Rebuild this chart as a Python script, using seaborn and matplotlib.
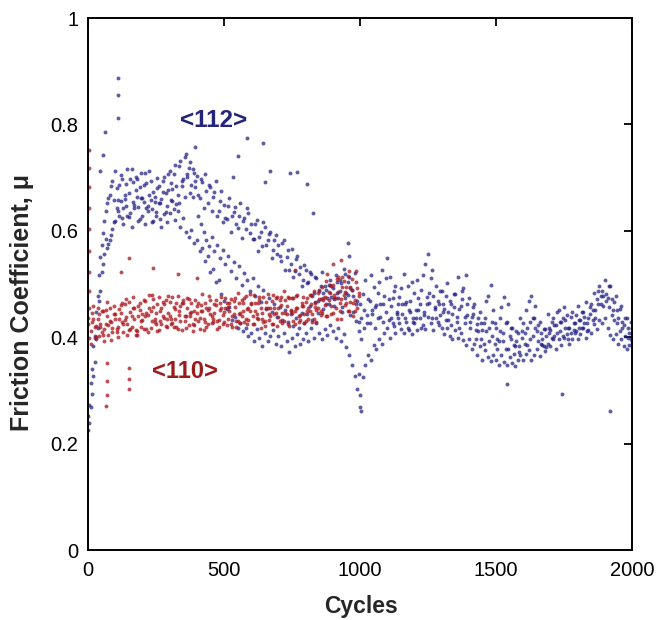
import numpy as np
import pandas as pd
import matplotlib
matplotlib.use("Agg")
import matplotlib.pyplot as plt
import seaborn as sns

# ---------------- data ----------------
blue_x_a = list(range(0, 2001, 10))
blue_x_b = list(range(5, 2000, 10)) + [2000]
blue_s1 = [0.252, 0.314, 0.383, 0.447, 0.516, 0.573, 0.618, 0.652, 0.667, 0.694,
           0.713, 0.657, 0.704, 0.642, 0.688, 0.671, 0.716, 0.648, 0.697, 0.683,
           0.662, 0.708, 0.637, 0.694, 0.673, 0.628, 0.684, 0.659, 0.702, 0.646,
           0.712, 0.679, 0.723, 0.668, 0.731, 0.697, 0.744, 0.718, 0.686, 0.709,
           0.703, 0.662, 0.691, 0.707, 0.653, 0.682, 0.664, 0.693, 0.638, 0.674,
           0.648, 0.623, 0.661, 0.627, 0.644, 0.606, 0.652, 0.618, 0.603, 0.634,
           0.612, 0.584, 0.621, 0.588, 0.572, 0.607, 0.583, 0.598, 0.563, 0.592,
           0.574, 0.543, 0.582, 0.551, 0.527, 0.566, 0.524, 0.553, 0.532, 0.508,
           0.527, 0.503, 0.518, 0.484, 0.512, 0.487, 0.523, 0.496, 0.473, 0.508,
           0.493, 0.517, 0.474, 0.502, 0.528, 0.483, 0.514, 0.488, 0.521, 0.468,
           0.463, 0.482, 0.507, 0.472, 0.516, 0.494, 0.461, 0.503, 0.527, 0.478,
           0.548, 0.513, 0.474, 0.497, 0.463, 0.492, 0.518, 0.467, 0.452, 0.503,
           0.484, 0.507, 0.463, 0.516, 0.538, 0.557, 0.512, 0.478, 0.496, 0.462,
           0.487, 0.453, 0.502, 0.468, 0.443, 0.482, 0.513, 0.458, 0.492, 0.516,
           0.473, 0.438, 0.462, 0.424, 0.447, 0.413, 0.436, 0.477, 0.498, 0.452,
           0.418, 0.393, 0.457, 0.476, 0.428, 0.403, 0.417, 0.384, 0.408, 0.437,
           0.427, 0.452, 0.468, 0.477, 0.436, 0.412, 0.428, 0.397, 0.416, 0.443,
           0.414, 0.437, 0.423, 0.452, 0.428, 0.457, 0.442, 0.418, 0.447, 0.426,
           0.458, 0.432, 0.447, 0.466, 0.437, 0.462, 0.483, 0.472, 0.497, 0.486,
           0.507, 0.473, 0.496, 0.452, 0.478, 0.437, 0.458, 0.423, 0.436, 0.408,
           0.417]
blue_s2 = [0.238, 0.293, 0.354, 0.418, 0.487, 0.537, 0.584, 0.576, 0.593, 0.617,
           0.643, 0.686, 0.624, 0.667, 0.628, 0.697, 0.654, 0.677, 0.618, 0.662,
           0.687, 0.643, 0.668, 0.616, 0.654, 0.681, 0.623, 0.672, 0.636, 0.677,
           0.658, 0.641, 0.684, 0.652, 0.693, 0.663, 0.702, 0.671, 0.716, 0.683,
           0.668, 0.697, 0.643, 0.674, 0.686, 0.638, 0.672, 0.627, 0.656, 0.617,
           0.624, 0.647, 0.598, 0.636, 0.613, 0.628, 0.587, 0.624, 0.643, 0.596,
           0.584, 0.613, 0.562, 0.597, 0.617, 0.573, 0.594, 0.548, 0.583, 0.557,
           0.553, 0.578, 0.527, 0.564, 0.538, 0.513, 0.547, 0.518, 0.497, 0.536,
           0.502, 0.523, 0.477, 0.514, 0.468, 0.497, 0.483, 0.462, 0.498, 0.476,
           0.458, 0.483, 0.507, 0.447, 0.474, 0.503, 0.442, 0.477, 0.463, 0.428,
           0.437, 0.452, 0.426, 0.468, 0.443, 0.457, 0.484, 0.438, 0.463, 0.512,
           0.472, 0.436, 0.487, 0.448, 0.476, 0.443, 0.462, 0.497, 0.468, 0.437,
           0.452, 0.473, 0.488, 0.447, 0.476, 0.464, 0.527, 0.453, 0.468, 0.486,
           0.447, 0.477, 0.432, 0.463, 0.482, 0.428, 0.453, 0.487, 0.438, 0.462,
           0.428, 0.457, 0.413, 0.436, 0.397, 0.427, 0.468, 0.418, 0.402, 0.426,
           0.397, 0.437, 0.408, 0.378, 0.463, 0.417, 0.386, 0.412, 0.372, 0.398,
           0.387, 0.418, 0.396, 0.437, 0.458, 0.423, 0.388, 0.416, 0.382, 0.407,
           0.428, 0.403, 0.447, 0.412, 0.436, 0.418, 0.397, 0.438, 0.413, 0.442,
           0.418, 0.447, 0.426, 0.412, 0.457, 0.433, 0.452, 0.487, 0.463, 0.478,
           0.468, 0.497, 0.442, 0.466, 0.427, 0.453, 0.417, 0.437, 0.398, 0.428,
           0.403]
blue_s3 = [0.226, 0.268, 0.327, 0.396, 0.468, 0.523, 0.557, 0.568, 0.583, 0.604,
           0.618, 0.637, 0.656, 0.613, 0.647, 0.626, 0.608, 0.643, 0.664, 0.622,
           0.628, 0.612, 0.647, 0.657, 0.618, 0.636, 0.653, 0.607, 0.632, 0.617,
           0.634, 0.656, 0.621, 0.638, 0.607, 0.624, 0.597, 0.588, 0.602, 0.577,
           0.583, 0.562, 0.568, 0.543, 0.552, 0.523, 0.528, 0.503, 0.507, 0.482,
           0.468, 0.453, 0.457, 0.433, 0.438, 0.417, 0.426, 0.412, 0.418, 0.402,
           0.407, 0.393, 0.416, 0.398, 0.384, 0.407, 0.392, 0.403, 0.414, 0.387,
           0.402, 0.384, 0.407, 0.392, 0.373, 0.398, 0.383, 0.406, 0.388, 0.397,
           0.408, 0.392, 0.417, 0.398, 0.426, 0.407, 0.397, 0.416, 0.404, 0.423,
           0.412, 0.398, 0.417, 0.392, 0.406, 0.382, 0.367, 0.348, 0.327, 0.302,
           0.268, 0.326, 0.348, 0.367, 0.358, 0.386, 0.377, 0.396, 0.388, 0.407,
           0.417, 0.398, 0.426, 0.408, 0.437, 0.416, 0.407, 0.428, 0.414, 0.406,
           0.426, 0.413, 0.437, 0.423, 0.416, 0.438, 0.427, 0.414, 0.436, 0.422,
           0.417, 0.406, 0.418, 0.403, 0.396, 0.413, 0.398, 0.408, 0.394, 0.386,
           0.397, 0.378, 0.387, 0.367, 0.384, 0.357, 0.376, 0.363, 0.356, 0.367,
           0.358, 0.347, 0.366, 0.354, 0.348, 0.363, 0.352, 0.346, 0.357, 0.366,
           0.357, 0.368, 0.376, 0.358, 0.366, 0.377, 0.364, 0.386, 0.374, 0.387,
           0.384, 0.396, 0.378, 0.397, 0.386, 0.398, 0.406, 0.388, 0.397, 0.408,
           0.397, 0.406, 0.417, 0.398, 0.413, 0.407, 0.424, 0.416, 0.433, 0.427,
           0.436, 0.418, 0.404, 0.397, 0.406, 0.388, 0.396, 0.384, 0.377, 0.386,
           0.383]
blue_s4 = [0.272, 0.341, 0.402, 0.478, 0.551, 0.596, 0.637, 0.661, 0.684, 0.658,
           0.681, 0.627, 0.698, 0.659, 0.716, 0.634, 0.691, 0.702, 0.645, 0.709,
           0.654, 0.689, 0.712, 0.641, 0.663, 0.699, 0.652, 0.693, 0.671, 0.706,
           0.689, 0.706, 0.651, 0.721, 0.684, 0.738, 0.707, 0.729, 0.664, 0.693,
           0.628, 0.612, 0.597, 0.583, 0.571, 0.589, 0.562, 0.574, 0.548, 0.563,
           0.537, 0.552, 0.524, 0.541, 0.512, 0.533, 0.498, 0.521, 0.507, 0.486,
           0.512, 0.478, 0.496, 0.467, 0.488, 0.453, 0.474, 0.447, 0.462, 0.438,
           0.457, 0.432, 0.451, 0.428, 0.443, 0.421, 0.437, 0.418, 0.446, 0.427,
           0.443, 0.458, 0.432, 0.467, 0.446, 0.472, 0.453, 0.488, 0.462, 0.497,
           0.472, 0.503, 0.486, 0.457, 0.518, 0.479, 0.493, 0.447, 0.431, 0.412,
           0.397, 0.418, 0.441, 0.427, 0.452, 0.418, 0.437, 0.462, 0.428, 0.447,
           0.432, 0.458, 0.421, 0.443, 0.427, 0.462, 0.436, 0.418, 0.447, 0.428,
           0.437, 0.452, 0.418, 0.442, 0.462, 0.483, 0.436, 0.457, 0.428, 0.441,
           0.462, 0.432, 0.447, 0.423, 0.457, 0.438, 0.418, 0.472, 0.427, 0.442,
           0.418, 0.443, 0.397, 0.412, 0.426, 0.388, 0.412, 0.392, 0.428, 0.387,
           0.377, 0.412, 0.393, 0.427, 0.378, 0.397, 0.368, 0.392, 0.384, 0.412,
           0.408, 0.386, 0.428, 0.402, 0.418, 0.393, 0.407, 0.383, 0.402, 0.418,
           0.398, 0.423, 0.407, 0.428, 0.403, 0.432, 0.417, 0.408, 0.426, 0.412,
           0.432, 0.418, 0.438, 0.427, 0.443, 0.452, 0.437, 0.462, 0.477, 0.458,
           0.482, 0.456, 0.472, 0.433, 0.452, 0.412, 0.428, 0.402, 0.418, 0.397,
           0.392]
blue_out_x = [62, 110, 110, 112, 55, 45, 393, 533, 551, 584, 643, 651,
              669, 743, 768, 805, 827, 956, 960, 995, 1000, 1005, 1540,
              1743, 1919]
blue_out_y = [0.786, 0.887, 0.855, 0.812, 0.742, 0.713, 0.758, 0.702, 0.741, 0.775,
              0.765, 0.692, 0.712, 0.708, 0.711, 0.688, 0.633, 0.578, 0.553, 0.331,
              0.292, 0.262, 0.312, 0.293, 0.262]

red_x_a = list(range(0, 1000, 10))
red_x_b = list(range(5, 1000, 10))
red_s1 = [0.437, 0.412, 0.458, 0.421, 0.403, 0.449, 0.415, 0.466, 0.430, 0.409,
          0.444, 0.419, 0.461, 0.425, 0.471, 0.414, 0.440, 0.455, 0.411, 0.452,
          0.433, 0.468, 0.441, 0.418, 0.457, 0.445, 0.476, 0.424, 0.462, 0.435,
          0.467, 0.426, 0.453, 0.478, 0.431, 0.464, 0.417, 0.471, 0.448, 0.422,
          0.458, 0.437, 0.482, 0.429, 0.452, 0.469, 0.434, 0.460, 0.420, 0.475,
          0.447, 0.423, 0.465, 0.439, 0.456, 0.484, 0.427, 0.450, 0.477, 0.432,
          0.463, 0.479, 0.436, 0.470, 0.445, 0.430, 0.481, 0.454, 0.425, 0.473,
          0.438, 0.461, 0.487, 0.444, 0.421, 0.474, 0.449, 0.480, 0.433, 0.459,
          0.466, 0.435, 0.462, 0.486, 0.451, 0.472, 0.495, 0.460, 0.518, 0.483,
          0.499, 0.455, 0.514, 0.471, 0.505, 0.465, 0.524, 0.489, 0.450, 0.493]
red_s2 = [0.398, 0.445, 0.419, 0.454, 0.425, 0.405, 0.451, 0.422, 0.394, 0.459,
          0.416, 0.453, 0.429, 0.463, 0.404, 0.447, 0.475, 0.413, 0.459, 0.430,
          0.470, 0.415, 0.455, 0.480, 0.429, 0.411, 0.450, 0.466, 0.421, 0.477,
          0.425, 0.456, 0.419, 0.441, 0.465, 0.430, 0.474, 0.439, 0.412, 0.469,
          0.431, 0.460, 0.414, 0.455, 0.478, 0.426, 0.463, 0.416, 0.451, 0.442,
          0.474, 0.457, 0.424, 0.468, 0.419, 0.444, 0.470, 0.429, 0.453, 0.481,
          0.425, 0.450, 0.464, 0.418, 0.476, 0.455, 0.432, 0.468, 0.443, 0.421,
          0.469, 0.427, 0.446, 0.475, 0.452, 0.431, 0.478, 0.440, 0.464, 0.426,
          0.450, 0.479, 0.428, 0.457, 0.483, 0.441, 0.469, 0.505, 0.470, 0.444,
          0.473, 0.509, 0.450, 0.495, 0.461, 0.515, 0.466, 0.440, 0.503, 0.478]
red_s3 = [0.424, 0.388, 0.435, 0.401, 0.444, 0.410, 0.392, 0.439, 0.455, 0.417,
          0.434, 0.400, 0.445, 0.409, 0.438, 0.466, 0.420, 0.435, 0.404, 0.465,
          0.443, 0.439, 0.410, 0.449, 0.472, 0.425, 0.414, 0.455, 0.436, 0.419,
          0.440, 0.475, 0.434, 0.415, 0.459, 0.470, 0.439, 0.423, 0.464, 0.450,
          0.445, 0.415, 0.450, 0.465, 0.425, 0.444, 0.428, 0.470, 0.433, 0.455,
          0.429, 0.464, 0.449, 0.420, 0.473, 0.431, 0.446, 0.465, 0.434, 0.454,
          0.465, 0.425, 0.443, 0.475, 0.434, 0.421, 0.455, 0.439, 0.479, 0.445,
          0.454, 0.475, 0.430, 0.458, 0.473, 0.445, 0.425, 0.454, 0.441, 0.476,
          0.431, 0.455, 0.479, 0.435, 0.429, 0.489, 0.445, 0.475, 0.439, 0.499,
          0.445, 0.474, 0.485, 0.435, 0.479, 0.495, 0.449, 0.510, 0.470, 0.455]
red_s4 = [0.454, 0.429, 0.399, 0.435, 0.419, 0.450, 0.425, 0.405, 0.428, 0.444,
          0.409, 0.435, 0.465, 0.433, 0.424, 0.415, 0.454, 0.405, 0.439, 0.420,
          0.415, 0.445, 0.479, 0.430, 0.434, 0.463, 0.431, 0.439, 0.470, 0.445,
          0.435, 0.420, 0.464, 0.449, 0.413, 0.439, 0.455, 0.445, 0.424, 0.434,
          0.464, 0.449, 0.435, 0.419, 0.454, 0.439, 0.445, 0.431, 0.465, 0.425,
          0.455, 0.435, 0.471, 0.444, 0.430, 0.464, 0.439, 0.474, 0.425, 0.449,
          0.439, 0.465, 0.435, 0.454, 0.429, 0.466, 0.444, 0.424, 0.455, 0.475,
          0.430, 0.445, 0.469, 0.425, 0.449, 0.474, 0.454, 0.429, 0.459, 0.444,
          0.474, 0.449, 0.444, 0.465, 0.455, 0.449, 0.474, 0.439, 0.485, 0.459,
          0.479, 0.435, 0.464, 0.514, 0.485, 0.449, 0.495, 0.464, 0.525, 0.484]
red_out_x = [2, 2, 2, 2, 2, 2, 2, 2, 70, 70, 70, 68, 150, 152, 150,
             120, 150, 240, 330, 400, 760, 900, 930]
red_out_y = [0.752, 0.718, 0.683, 0.642, 0.604, 0.562, 0.523, 0.487, 0.352, 0.318,
             0.292, 0.271, 0.343, 0.321, 0.302, 0.522, 0.548, 0.531, 0.518, 0.512,
             0.527, 0.538, 0.546]

labels = ["<112>", "<110>"]
x_ticks = [0, 500, 1000, 1500, 2000]
y_ticks = [0, 0.2, 0.4, 0.6, 0.8, 1]
y_tick_labels = ["0", "0.2", "0.4", "0.6", "0.8", "1"]

BLUE = "#1e1e82"
RED = "#a8161c"

# ---------------- build long table ----------------
frames = [
    pd.DataFrame({"cycles": blue_x_a, "mu": blue_s1, "dir": labels[0]}),
    pd.DataFrame({"cycles": blue_x_b, "mu": blue_s2, "dir": labels[0]}),
    pd.DataFrame({"cycles": blue_x_a, "mu": blue_s3, "dir": labels[0]}),
    pd.DataFrame({"cycles": blue_x_b, "mu": blue_s4, "dir": labels[0]}),
    pd.DataFrame({"cycles": blue_out_x, "mu": blue_out_y, "dir": labels[0]}),
    pd.DataFrame({"cycles": red_x_a, "mu": red_s1, "dir": labels[1]}),
    pd.DataFrame({"cycles": red_x_b, "mu": red_s2, "dir": labels[1]}),
    pd.DataFrame({"cycles": red_x_a, "mu": red_s3, "dir": labels[1]}),
    pd.DataFrame({"cycles": red_x_b, "mu": red_s4, "dir": labels[1]}),
    pd.DataFrame({"cycles": red_out_x, "mu": red_out_y, "dir": labels[1]}),
]
df = pd.concat(frames, ignore_index=True)

sns.set_style("white")
plt.rcParams["font.family"] = ["Liberation Sans", "DejaVu Sans"]

fig = plt.figure(figsize=(6.7, 6.2), dpi=100)
ax = fig.add_axes([88 / 670, 70 / 620, 544 / 670, 532 / 620])

sns.scatterplot(data=df[df["dir"] == labels[0]], x="cycles", y="mu",
                color=BLUE, s=8, linewidth=0, alpha=0.72, ax=ax, legend=False)
sns.scatterplot(data=df[df["dir"] == labels[1]], x="cycles", y="mu",
                color=RED, s=8, linewidth=0, alpha=0.75, ax=ax, legend=False)

ax.set_xlim(0, 2000)
ax.set_ylim(0, 1)
ax.set_xticks(x_ticks)
ax.set_yticks(y_ticks)
ax.set_yticklabels(y_tick_labels)
ax.tick_params(direction="in", length=6, width=1.3, top=True, right=True,
               labelsize=14.5, colors="black")
ax.tick_params(axis="y", pad=7)
ax.tick_params(axis="x", pad=8)
for sp in ax.spines.values():
    sp.set_visible(True)
    sp.set_color("black")
    sp.set_linewidth(1.4)

ax.set_xlabel("Cycles", fontsize=16.5, fontweight="bold")
ax.set_ylabel("Friction Coefficient, μ", fontsize=18, fontweight="bold")
ax.xaxis.label.set_va("center")
ax.yaxis.label.set_va("center")
ax.xaxis.set_label_coords(0.502, -0.107)
ax.yaxis.set_label_coords(-0.121, 0.466)

ax.text(460, 0.808, labels[0], color="#24247c", fontsize=17.5, fontweight="bold",
        ha="center", va="center")
ax.text(357, 0.336, labels[1], color="#9e1a1a", fontsize=17, fontweight="bold",
        ha="center", va="center")

fig.savefig("out.png", dpi=100)
